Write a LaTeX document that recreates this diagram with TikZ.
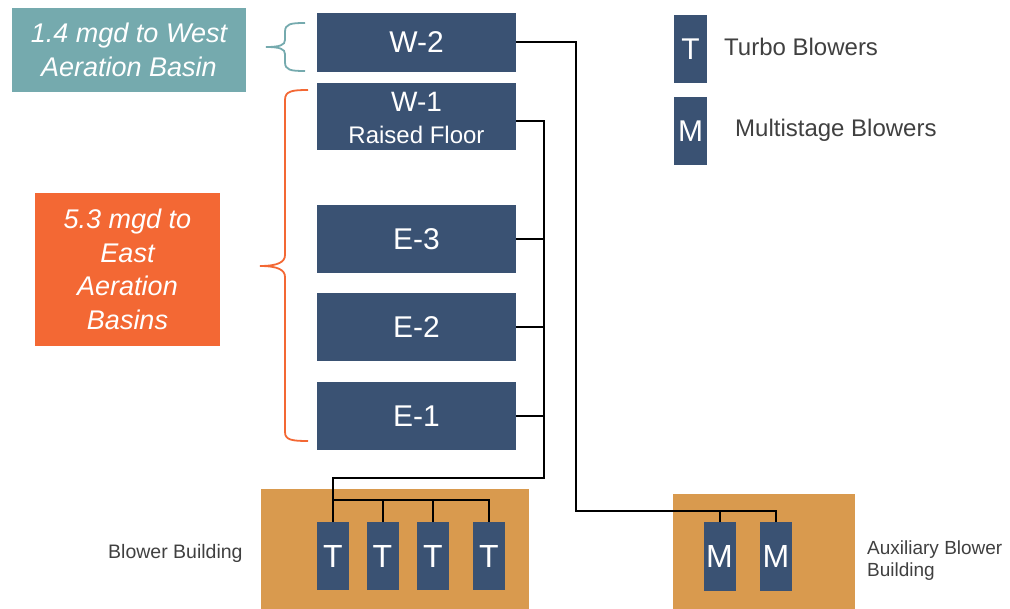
\documentclass[tikz,border=0pt]{standalone}
\usepackage{fontspec}
\setmainfont{Liberation Sans}
\usepackage{tikz}
\usetikzlibrary{arrows}
\usetikzlibrary{calc}
\definecolor{navy}{RGB}{58,82,115}
\definecolor{teal1}{RGB}{117,170,174}
\definecolor{orng}{RGB}{243,104,52}
\definecolor{tan1}{RGB}{217,154,78}
\definecolor{txtgray}{RGB}{64,64,64}
\newcommand*\fsz[2]{\fontsize{#1}{#2}\selectfont}
\tikzset{
  unit/.style={fill=navy,text=white,minimum width=199pt,minimum height=68pt,inner sep=0pt,font=\fsz{30}{30}},
  blower/.style={fill=navy,text=white,minimum width=32pt,minimum height=68pt,inner sep=0pt,font=\fsz{32}{32}},
  bldg/.style={fill=tan1,inner sep=0pt},
  callout/.style={text=white,inner sep=0pt,align=center,font=\fsz{27}{33.5}\itshape},
  lbl/.style={text=txtgray,anchor=west,inner sep=0pt,align=left},
  pipe/.style={black,line width=2pt},
  brace/.style={line width=1.8pt}
}

\begin{document}
\begin{tikzpicture}[x=1pt,y=-1pt]
			\useasboundingbox (0,0) rectangle (1010,609);
			\node[fill=teal1,minimum width=234pt,minimum height=84pt](west)at(129,50){};
			\node[callout](westtxt)at(129,50){1.4 mgd to West\\Aeration Basin};
			\node[fill=orng,minimum width=185pt,minimum height=153pt](east)at(127.5,269.5){};
			\node[callout](easttxt)at(127.5,269.5){5.3 mgd to\\East\\Aeration\\Basins};
			\node[bldg,minimum width=268pt,minimum height=120pt](bb)at(395,549){};
			\node[bldg,minimum width=182pt,minimum height=115pt](ab)at(764,551.5){};
			\node[unit,minimum height=59pt](w2)at(416.5,42.5){W-2};
			\node[unit,minimum height=67pt](w1)at(416.5,116.5){};
			\node[text=white,inner sep=0pt,align=center,font=\fsz{28}{28}](w1txt)at(416.5,118){W-1\\[4pt]{\fsz{24}{28}Raised Floor}};
			\node[unit](e3)at(416.5,239){E-3};
			\node[unit](e2)at(416.5,327){E-2};
			\node[unit](e1)at(416.5,416){E-1};
			\node[blower](t1)at(333,556){T};
			\node[blower](t2)at(382.5,556){T};
			\node[blower](t3)at(433,556){T};
			\node[blower](t4)at(489,556){T};
			\node[blower](m1)at(719.5,556.5){M};
			\node[blower](m2)at(776,556.5){M};
			\node[blower,minimum width=33pt,font=\fsz{30}{30}](legt)at(690.5,49){T};
			\node[blower,minimum width=33pt,font=\fsz{30}{30}](legm)at(690.5,131){M};
			\node[lbl,font=\fsz{24}{24}](turbo)at(724,47){Turbo Blowers};
			\node[lbl,font=\fsz{24}{24}](multi)at(735,130){Multistage Blowers};
			\node[lbl,font=\fsz{19.5}{19.5}](bbtxt)at(108,553){Blower Building};
			\node[lbl,font=\fsz{19}{22}](abtxt)at(867,561){Auxiliary Blower\\Building};
			\coordinate(jw)at(576,511);
			\coordinate(jt)at(544,478);
			\coordinate(tb)at(333,500);
			\draw[pipe](w2.east)-|(jw)-|(m2.north);
			\draw[pipe](m1.north)--(m1.north|-jw);
			\draw[pipe]([yshift=-4.5pt]w1.east)-|(jt)-|(t1.north);
			\foreach \u in {e3,e2,e1}
				\draw[pipe](\u.east)--(\u.east-|jt);
			\draw[pipe](t1.north|-tb)-|(t4.north);
			\foreach \t in {t2,t3}
				\draw[pipe](\t.north)--(\t.north|-tb);
			\draw[brace,teal1](305,23).. controls (290,23) and (285,24) ..(285,32)--(285,40)
				.. controls (285,45) and (280,47) ..(266,47).. controls (280,47) and (285,49) ..(285,54)
				--(285,62).. controls (285,70) and (290,71) ..(305,71);
			\draw[brace,orng](308,90).. controls (292,90) and (285,91) ..(285,100)--(285,255)
				.. controls (285,262) and (278,266) ..(260,266).. controls (278,266) and (285,270) ..(285,277)
				--(285,432).. controls (285,440) and (292,441) ..(308,441);
		\end{tikzpicture}
\end{document}
